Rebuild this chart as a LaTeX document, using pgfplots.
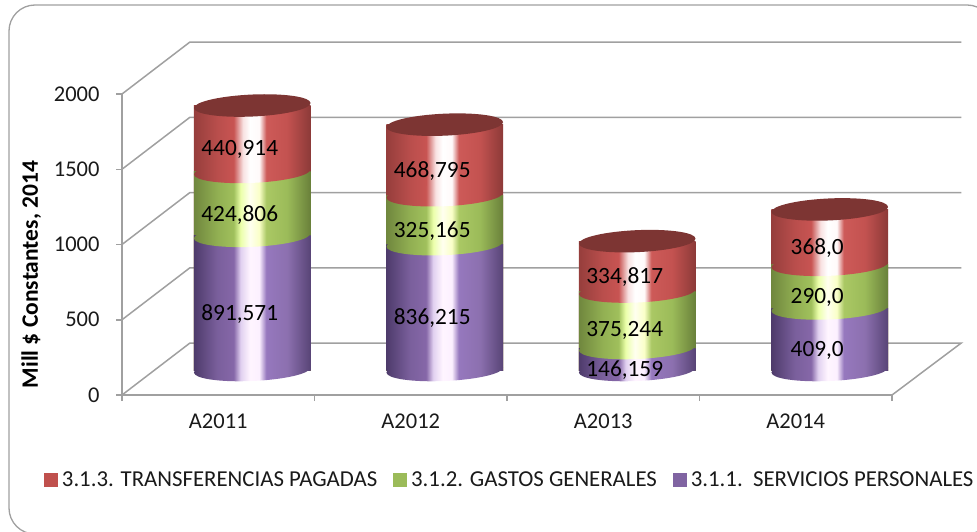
\documentclass[border=0pt]{standalone}
\usepackage{pgfplots}
\pgfplotsset{compat=1.18}
\usepackage{fontspec}
\setmainfont{Carlito}
\definecolor{gridc}{HTML}{A0A0A0}
\definecolor{txt}{HTML}{1A1A1A}
\definecolor{redtop}{HTML}{7D3533}
\definecolor{redleg}{HTML}{C0504D}
\definecolor{greenleg}{HTML}{9BBB59}
\definecolor{purpleleg}{HTML}{8064A2}
\pgfdeclarehorizontalshading{redsh}{100bp}{
 rgb(0bp)=(0.588,0.243,0.235);
 rgb(25bp)=(0.588,0.243,0.235);
 rgb(35bp)=(0.725,0.306,0.298);
 rgb(42bp)=(0.784,0.329,0.322);
 rgb(46bp)=(0.973,0.882,0.882);
 rgb(49bp)=(1,1,1);
 rgb(53bp)=(1,0.98,0.98);
 rgb(56bp)=(0.804,0.353,0.345);
 rgb(65bp)=(0.765,0.322,0.314);
 rgb(75bp)=(0.549,0.227,0.22);
 rgb(100bp)=(0.549,0.227,0.22)}
\pgfdeclarehorizontalshading{greensh}{100bp}{
 rgb(0bp)=(0.439,0.529,0.243);
 rgb(25bp)=(0.439,0.529,0.243);
 rgb(35bp)=(0.569,0.686,0.322);
 rgb(42bp)=(0.627,0.753,0.361);
 rgb(45bp)=(0.922,1,0.667);
 rgb(49bp)=(1,1,0.941);
 rgb(53bp)=(0.98,1,0.784);
 rgb(56bp)=(0.667,0.784,0.392);
 rgb(65bp)=(0.608,0.733,0.349);
 rgb(75bp)=(0.412,0.502,0.227);
 rgb(100bp)=(0.412,0.502,0.227)}
\pgfdeclarehorizontalshading{purplesh}{100bp}{
 rgb(0bp)=(0.306,0.231,0.42);
 rgb(25bp)=(0.306,0.231,0.42);
 rgb(35bp)=(0.478,0.373,0.612);
 rgb(42bp)=(0.525,0.404,0.659);
 rgb(45bp)=(0.882,0.816,0.941);
 rgb(49bp)=(1,0.961,1);
 rgb(53bp)=(0.988,0.941,1);
 rgb(56bp)=(0.588,0.471,0.745);
 rgb(65bp)=(0.549,0.439,0.686);
 rgb(75bp)=(0.345,0.267,0.463);
 rgb(100bp)=(0.345,0.267,0.463)}
\newcommand{\ellpath}{\pgfpathellipse{\pgfpointorigin}{\pgfpoint{58.3pt}{2.5pt}}{\pgfpoint{0pt}{11pt}}}
\pgfdeclareplotmark{redE}{\ellpath\pgfshadepath{redsh}{0}\pgfusepath{discard}}
\pgfdeclareplotmark{greenE}{\ellpath\pgfshadepath{greensh}{0}\pgfusepath{discard}}
\pgfdeclareplotmark{purpleE}{\ellpath\pgfshadepath{purplesh}{0}\pgfusepath{discard}}
\pgfdeclareplotmark{topE}{\ellpath\pgfsetfillcolor{redtop}\pgfusepath{fill}}
\begin{document}
\begin{tikzpicture}[x=1pt,y=1pt]
\path[use as bounding box] (0,0) rectangle (977,531);
\begin{scope}
\clip (0,0) rectangle (977,531);
\draw[color=gridc, line width=1.3pt, rounded corners=26pt] (9,-3) rectangle (993,526);
\end{scope}
\begin{axis}[
  at={(122pt,136pt)}, anchor=origin, scale only axis, width=770pt, height=301pt,
  xmin=0, xmax=4, ymin=0, ymax=2000, clip=false,
  axis x line*=bottom, axis y line*=left,
  axis line style={color=gridc, line width=1.5pt, -},
  xtick={0,1,2,3,4}, xticklabels={},
  extra x ticks={0.5,1.5,2.5,3.5},
  extra x tick labels={A2011,A2012,A2013,A2014},
  extra x tick style={major tick length=0pt, tick label style={yshift=-15pt}},
  ytick={0,500,1000,1500,2000},
  tick style={color=gridc, line width=1.5pt},
  major tick length=6pt,
  tick align=outside,
  yticklabel style={xshift=-13pt},
  scaled y ticks=false,
  /pgf/number format/assume math mode=true,
  /pgf/number format/1000 sep={},
  tick label style={font=\fontsize{22.5}{26}\selectfont, color=txt},
  ylabel={Mill \$ Constantes, 2014},
  ylabel style={at={(axis description cs:-0.118,0.40)}, anchor=center, font=\fontsize{23.5}{27}\selectfont\bfseries, color=black},
  legend columns=3,
  legend cell align=left,
  legend style={at={(axis description cs:-0.1015,-0.283)}, anchor=west, draw=none, fill=none, font=\fontsize{22.8}{27}\selectfont, text=txt, inner sep=0pt, /tikz/every even column/.append style={column sep=14pt}, /tikz/every odd column/.append style={column sep=2.5pt}},
  legend image code/.code={\fill[#1] (0pt,-6.5pt) rectangle (13pt,6.5pt);},
]
% walls
\addplot[forget plot, gridc, line width=1.5pt] coordinates {(0,0) (0.353,345.5) (4.36,345.5) (4,0)};
\addplot[forget plot, gridc, line width=1.5pt] coordinates {(0,500) (0.353,845.5) (4.36,845.5)};
\addplot[forget plot, gridc, line width=1.5pt] coordinates {(0,1000) (0.353,1345.5) (4.36,1345.5)};
\addplot[forget plot, gridc, line width=1.5pt] coordinates {(0,1500) (0.353,1845.5) (4.36,1845.5)};
\addplot[forget plot, gridc, line width=1.5pt] coordinates {(0,2000) (0.353,2345.5) (4.36,2345.5)};
\addlegendimage{redleg}
\addlegendentry{3.1.3. TRANSFERENCIAS PAGADAS}
\addlegendimage{greenleg}
\addlegendentry{3.1.2. GASTOS GENERALES}
\addlegendimage{purpleleg}
\addlegendentry{3.1.1.\ \ SERVICIOS PERSONALES}
\end{axis}
\begin{axis}[
  at={(156pt,161pt)}, anchor=origin, scale only axis, width=770pt, height=301pt,
  xmin=0, xmax=4, ymin=0, ymax=2000, clip=false, hide axis,
  cyl/.style={ybar, bar width=116.6pt, bar shift=0pt, draw=none, shade, shading=#1},
]
\addplot[cyl=redsh] coordinates {(0.5,1757.291)};
\addplot[cyl=redsh] coordinates {(1.5,1630.175)};
\addplot[cyl=redsh] coordinates {(2.5,856.22)};
\addplot[cyl=redsh] coordinates {(3.5,1067)};
\addplot[cyl=greensh] coordinates {(0.5,1316.377)};
\addplot[cyl=greensh] coordinates {(1.5,1161.38)};
\addplot[cyl=greensh] coordinates {(2.5,521.403)};
\addplot[cyl=greensh] coordinates {(3.5,699)};
\addplot[cyl=purplesh] coordinates {(0.5,891.571)};
\addplot[cyl=purplesh] coordinates {(1.5,836.215)};
\addplot[cyl=purplesh] coordinates {(2.5,146.159)};
\addplot[cyl=purplesh] coordinates {(3.5,409)};
\addplot[only marks, mark=purpleE] coordinates {(0.5,0) (1.5,0) (2.5,0) (3.5,0)};
\addplot[only marks, mark=greenE] coordinates {(0.5,891.571) (1.5,836.215) (2.5,146.159) (3.5,409)};
\addplot[only marks, mark=redE] coordinates {(0.5,1316.377) (1.5,1161.38) (2.5,521.403) (3.5,699)};
\addplot[only marks, mark=topE] coordinates {(0.5,1757.291) (1.5,1630.175) (2.5,856.22) (3.5,1067)};
\addplot[draw=none, mark=none, point meta=explicit symbolic,
  nodes near coords,
  every node near coord/.style={anchor=center, xshift=-12.5pt, yshift=-11pt, font=\fontsize{23.3}{27}\selectfont, text=black}]
 table[meta=m] {
x y m
0.5 445.8 891,571
0.5 1104 424,806
0.5 1536.8 440,914
1.5 418.1 836,215
1.5 998.8 325,165
1.5 1395.8 468,795
2.5 73.1 146,159
2.5 333.8 375,244
2.5 688.8 334,817
3.5 204.5 409,0
3.5 554 290,0
3.5 883 368,0
};
\end{axis}
\end{tikzpicture}
\end{document}
